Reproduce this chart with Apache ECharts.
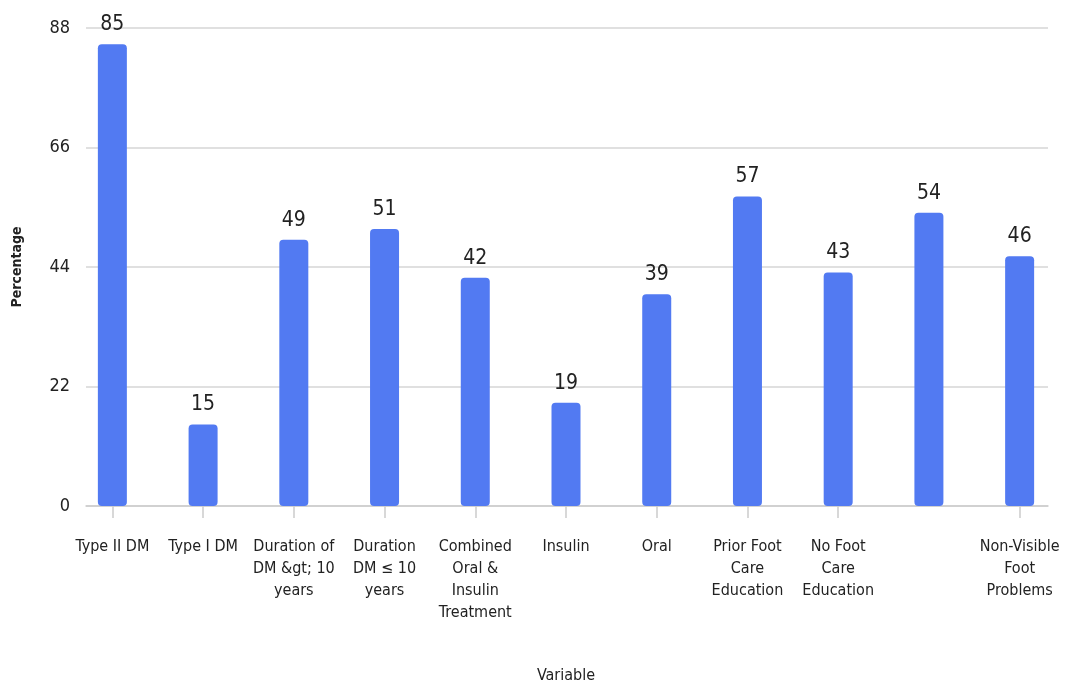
<!DOCTYPE html>
<html>
<head>
<meta charset="utf-8">
<script src="https://cdn.jsdelivr.net/npm/echarts@6/dist/echarts.min.js"></script>
<style>
  html, body { margin: 0; padding: 0; background: #fff; }
  #chart { width: 1065px; height: 686px; }
</style>
</head>
<body>
<div id="chart"></div>
<script>
const categories = [
  'Type II DM',
  'Type I DM',
  'Duration of\nDM &gt; 10\nyears',
  'Duration\nDM \u2264 10\nyears',
  'Combined\nOral &\nInsulin\nTreatment',
  'Insulin',
  'Oral',
  'Prior Foot\nCare\nEducation',
  'No Foot\nCare\nEducation',
  '',
  'Non-Visible\nFoot\nProblems'
]
const percentages = [85, 15, 49, 51, 42, 19, 39, 57, 43, 54, 46]
const yTicks = [0, 22, 44, 66, 88]

// narrow face to match the squeezed look of the original
const font = '"DejaVu Sans Condensed", "Liberation Sans Narrow", "Noto Sans", sans-serif'
const chart = echarts.init(document.getElementById('chart'))

// the bars spread wider than the gridlines in the original, so the
// gridlines/baseline live on a second grid with the same vertical scale
const yRange = { min: yTicks[0], max: yTicks[yTicks.length - 1], interval: 22 }

chart.setOption({
  animation: false,
  textStyle: { fontFamily: font },
  grid: [
    { left: 67, right: 0, top: 28, bottom: 180, outerBoundsMode: 'none' },
    { left: 86, right: 17, top: 28, bottom: 180, outerBoundsMode: 'none' }
  ],
  xAxis: [
    {
      type: 'category',
      gridIndex: 0,
      data: categories,
      name: 'Variable',
      nameLocation: 'middle',
      nameGap: 162,
      nameTextStyle: { color: '#222', fontSize: 16, fontFamily: font },
      axisLine: { show: true, lineStyle: { color: '#cccccc', opacity: 0 } },
      axisTick: {
        show: true,
        alignWithLabel: true,
        length: 12,
        interval: (index, value) => value !== '',
        lineStyle: { color: '#cccccc', width: 1.5 }
      },
      axisLabel: {
        interval: 0,
        color: '#222',
        fontSize: 16,
        lineHeight: 22,
        margin: 30,
        fontFamily: font
      }
    },
    {
      type: 'value',
      gridIndex: 1,
      min: 0,
      max: 1,
      axisLine: { show: true, lineStyle: { color: '#cccccc', width: 1.5 } },
      axisTick: { show: false },
      axisLabel: { show: false },
      splitLine: { show: false }
    }
  ],
  yAxis: [
    {
      type: 'value',
      gridIndex: 0,
      ...yRange,
      axisLine: { show: false },
      axisTick: { show: false },
      axisLabel: { show: false },
      splitLine: { show: false }
    },
    {
      type: 'value',
      gridIndex: 1,
      ...yRange,
      name: 'Percentage',
      nameLocation: 'middle',
      nameGap: 62,
      nameTextStyle: { color: '#222', fontSize: 14, fontWeight: 'bold', fontFamily: font },
      axisLine: { show: false },
      axisTick: { show: false },
      axisLabel: { color: '#222', fontSize: 18, margin: 16, fontFamily: font },
      splitLine: { lineStyle: { color: '#d6d6d6', width: 1.5 } }
    }
  ],
  series: [
    {
      type: 'bar',
      xAxisIndex: 0,
      yAxisIndex: 0,
      data: percentages,
      barWidth: 29,
      z: 3,
      itemStyle: { color: '#527af2', borderRadius: 4 },
      label: {
        show: true,
        position: 'top',
        distance: 9,
        color: '#222',
        fontSize: 21,
        fontFamily: font
      }
    }
  ]
})
</script>
</body>
</html>
